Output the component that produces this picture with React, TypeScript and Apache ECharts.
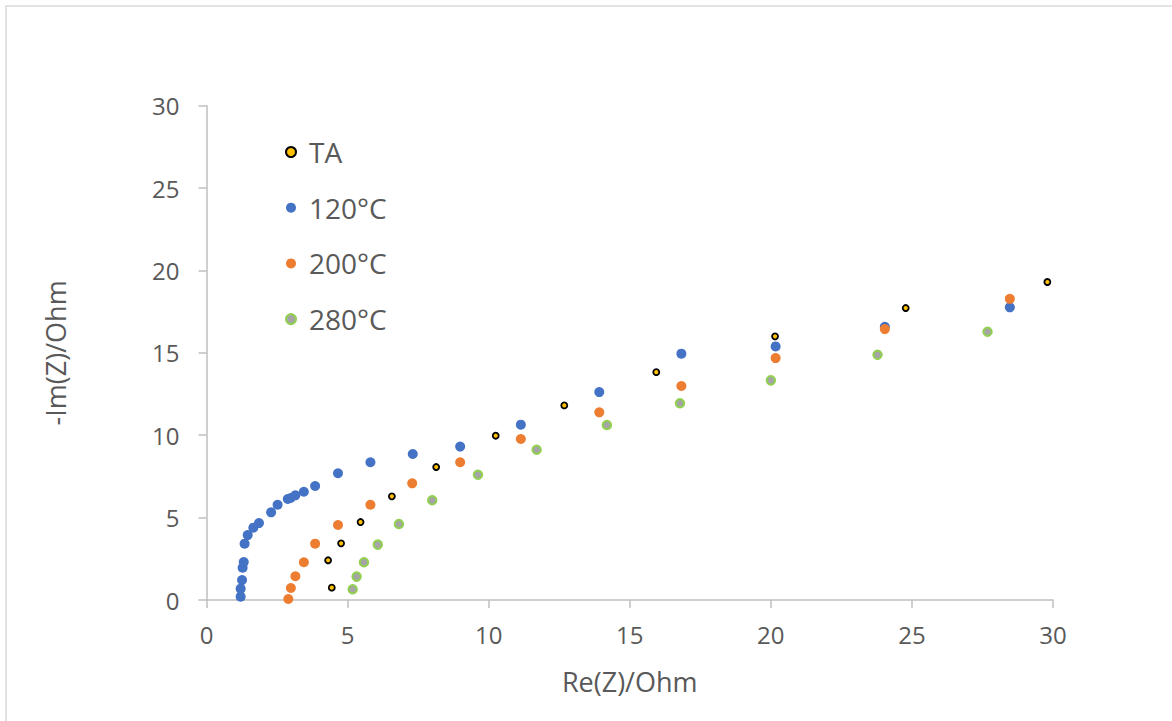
import React, { useEffect, useRef } from "react";
import * as echarts from "echarts";

const seriesNames = ["TA", "120°C", "200°C", "280°C"];

const taData: number[][] = [
  [4.44, 0.75], [4.31, 2.41], [4.77, 3.44], [5.46, 4.73], [6.57, 6.29],
  [8.14, 8.07], [10.25, 9.97], [12.68, 11.81], [15.94, 13.83],
  [20.15, 16.0], [24.78, 17.72], [29.8, 19.3],
];

const d120: number[][] = [
  [1.21, 0.2], [1.21, 0.69], [1.26, 1.21], [1.28, 1.96], [1.32, 2.3],
  [1.35, 3.42], [1.46, 3.94], [1.66, 4.39], [1.86, 4.67], [2.29, 5.32],
  [2.52, 5.78], [2.88, 6.13], [2.98, 6.19], [3.15, 6.35], [3.45, 6.57],
  [3.85, 6.92], [4.66, 7.69], [5.81, 8.36], [7.31, 8.86], [8.99, 9.31],
  [11.14, 10.64], [13.92, 12.62], [16.83, 14.95], [20.17, 15.39],
  [24.04, 16.58], [28.47, 17.76],
];

const d200: number[][] = [
  [2.9, 0.06], [2.99, 0.73], [3.15, 1.44], [3.45, 2.29], [3.85, 3.42],
  [4.66, 4.55], [5.81, 5.78], [7.29, 7.08], [8.99, 8.36], [11.14, 9.77],
  [13.92, 11.39], [16.83, 12.99], [20.17, 14.68], [24.04, 16.44],
  [28.47, 18.28],
];

const d280: number[][] = [
  [5.18, 0.65], [5.32, 1.42], [5.58, 2.29], [6.07, 3.36], [6.82, 4.61],
  [8.0, 6.05], [9.62, 7.6], [11.7, 9.12], [14.19, 10.62], [16.78, 11.94],
  [20.0, 13.33], [23.78, 14.88], [27.68, 16.28],
];

const FONT = "'Open Sans', sans-serif";
const TXT = "#595959";

export default function App() {
  const ref = useRef<HTMLDivElement>(null);
  useEffect(() => {
    if (!ref.current) return;
    const chart = echarts.init(ref.current, null, { renderer: "svg" });
    const axisCommon = {
      type: "value",
      min: 0,
      max: 30,
      interval: 5,
      splitLine: { show: false },
      axisLine: { show: true, lineStyle: { color: "#bfbfbf", width: 1.5 } },
      axisTick: { show: true, inside: false, length: 8, lineStyle: { color: "#bfbfbf", width: 1.5 } },
      nameLocation: "middle",
      nameTextStyle: { color: TXT, fontSize: 27, fontFamily: FONT },
    };
    chart.setOption({
      animation: false,
      backgroundColor: "#ffffff",
      graphic: [
        {
          type: "rect",
          shape: { x: 6, y: 6, width: 1200, height: 800 },
          style: { fill: "none", stroke: "#d9d9d9", lineWidth: 1.5 },
          silent: true,
        },
      ],
      grid: { left: 206.5, right: 119, top: 105.7, bottom: 121 },
      legend: {
        orient: "vertical",
        left: 280,
        top: 132,
        itemWidth: 26,
        itemHeight: 10,
        itemGap: 25.7,
        textStyle: { color: TXT, fontSize: 28, fontFamily: FONT, lineHeight: 30 },
        data: seriesNames,
      },
      xAxis: {
        ...axisCommon,
        name: "Re(Z)/Ohm",
        nameGap: 68,
        axisLabel: { color: TXT, fontSize: 24, fontFamily: FONT, margin: 22 },
      },
      yAxis: {
        ...axisCommon,
        name: "-Im(Z)/Ohm",
        nameGap: 138,
        axisLabel: { color: TXT, fontSize: 24, fontFamily: FONT, margin: 27 },
      },
      series: [
        {
          name: seriesNames[0],
          type: "scatter",
          data: taData,
          symbol: "circle",
          symbolSize: 6,
          itemStyle: { color: "#ffc000", borderColor: "#000000", borderWidth: 1.8, opacity: 1 },
        },
        {
          name: seriesNames[1],
          type: "scatter",
          data: d120,
          symbol: "circle",
          symbolSize: 10,
          itemStyle: { color: "#4472c4", opacity: 1 },
        },
        {
          name: seriesNames[2],
          type: "scatter",
          data: d200,
          symbol: "circle",
          symbolSize: 10,
          itemStyle: { color: "#ed7d31", opacity: 1 },
        },
        {
          name: seriesNames[3],
          type: "scatter",
          data: d280,
          symbol: "circle",
          symbolSize: 8.5,
          itemStyle: { color: "#a5a5a5", borderColor: "#92d050", borderWidth: 2, opacity: 1 },
        },
      ],
    });
    return () => chart.dispose();
  }, []);
  return (
    <div
      ref={ref}
      style={{ position: "absolute", left: 0, top: 0, width: 1172, height: 721 }}
    />
  );
}
